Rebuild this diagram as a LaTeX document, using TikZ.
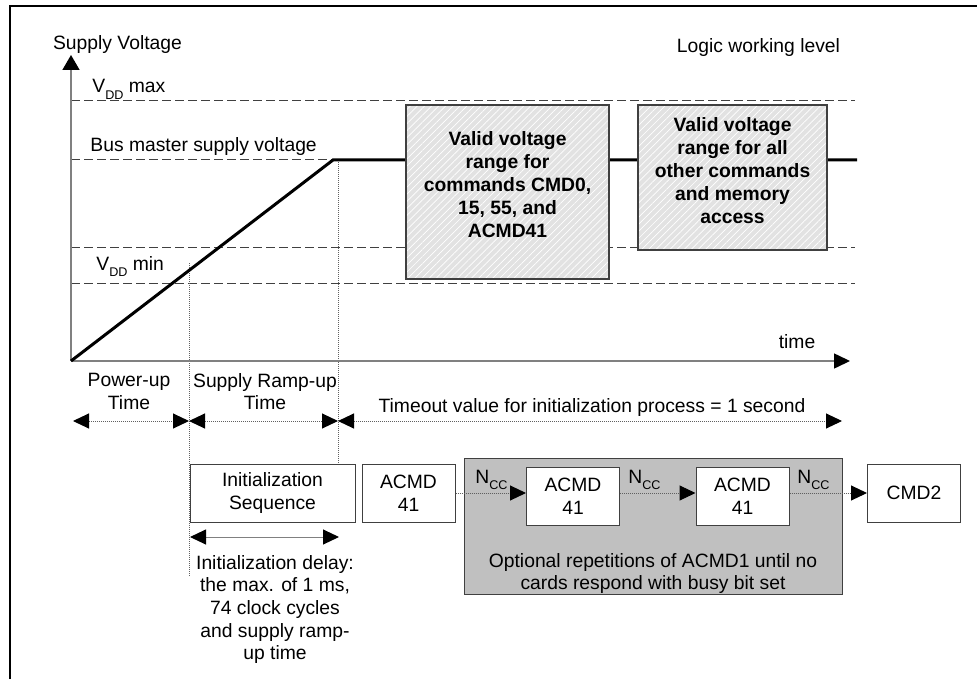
\documentclass[tikz,border=0pt]{standalone}
\usepackage{fontspec}
\setmainfont{Liberation Sans}
\usetikzlibrary{arrows.meta,patterns.meta}
\newcommand{\lowsub}[1]{\raisebox{-3.3pt}{\fontsize{6.3}{7}\selectfont #1}}
\definecolor{edgegray}{HTML}{404040}
\definecolor{axisgray}{HTML}{808080}
\definecolor{dotgray}{HTML}{606060}
\definecolor{repfill}{HTML}{C0C0C0}
\definecolor{hatchfill}{HTML}{E2E2E2}
\begin{document}
\begin{tikzpicture}[x=0.5pt,y=-0.5pt,
  every node/.style={font=\fontsize{9.65}{11.3}\selectfont,inner sep=0pt},
  tipend/.style={-{Triangle[length=8pt,width=7.5pt,color=black]}},
  tipboth/.style={{Triangle[length=8pt,width=7.5pt,color=black]}-{Triangle[length=8pt,width=7.5pt,color=black]}},
  dashline/.style={draw=edgegray,line width=0.5pt,dash pattern=on 4.5pt off 2pt},
  dotline/.style={draw=dotgray,line width=0.5pt,dash pattern=on 0.5pt off 0.5pt},
  axisline/.style={draw=axisgray,line width=0.75pt},
  cmdbox/.style={draw=edgegray,fill=white,line width=0.5pt,align=center,minimum width=46.5pt,minimum height=29pt},
  validbox/.style={fill=hatchfill,
     postaction={pattern={Lines[angle=45,distance=2.5pt,line width=0.35pt]},pattern color=white},
     postaction={draw=edgegray,line width=0.6pt}},
  boldtext/.style={align=center,font=\fontsize{9.65}{11.5}\selectfont\bfseries},
  plaintext/.style={align=center},
]
\useasboundingbox (0,0) rectangle (977,679);
% frame
\draw[line width=1pt] (10,679) -- (10,6) -- (977,6);

% coordinates
\coordinate (O) at (71,361);
\coordinate (ytop) at (71,55);
\coordinate (xend) at (850,361);
\coordinate (peak) at (333,160);
\coordinate (flatend) at (857,160);

% dashed levels
\draw[dashline] (71,101) -- (855,101);
\draw[dashline] (71,160) -- (peak);
\draw[dashline] (71,247) -- (855,247);
\draw[dashline] (71,283) -- (855,283);

% vertical dotted markers
\coordinate (v1top) at (189,263);
\coordinate (v1bot) at (189,577);
\coordinate (v2top) at (338,160);
\coordinate (v2bot) at (338,464);
\draw[dotline] (v1top) -- (v1bot);
\draw[dotline] (v2top) -- (v2bot);

% axes
\draw[axisline,-{Triangle[length=7.5pt,width=8.5pt,color=black]}] (O) -- (ytop);
\draw[axisline,-{Triangle[length=8pt,width=7.5pt,color=black]}] (O) -- (xend);

% supply ramp
\draw[line width=1.5pt,line join=miter] (O) -- (peak) -- (flatend);

% labels on graph
\node[anchor=base] (sv) at (117.5,50) {Supply Voltage};
\node[anchor=base] (lw) at (758.5,53) {Logic working level};
\node[anchor=base west] (vmax) at (92,93) {V\lowsub{DD} max};
\node[anchor=base west] (bus) at (90,152) {Bus master supply voltage};
\node[anchor=base west] (vmin) at (96,270) {V\lowsub{DD} min};
\node[anchor=base] (tm) at (797,348) {time};

% valid voltage boxes
\node[validbox,minimum width=101.5pt,minimum height=87pt] (val1) at (507.5,192) {};
\node[boldtext,anchor=north] at (507.5,131) {Valid voltage\\range for\\commands CMD0,\\15, 55, and\\ACMD41};
\node[validbox,minimum width=94.5pt,minimum height=72.5pt] (val2) at (732.5,177.5) {};
\node[boldtext,anchor=north] at (732.5,117) {Valid voltage\\range for all\\other commands\\and memory\\access};

% time spans
\coordinate (s0) at (73,421);
\coordinate (s1) at (189,421);
\coordinate (s2) at (338,421);
\coordinate (s3) at (842,421);
\draw[dotline,tipboth] (s0) -- (s1);
\draw[dotline,tipboth] (s1) -- (s2);
\draw[dotline,tipboth] (s2) -- (s3);
\node[plaintext,anchor=north] (pu) at (129,373) {Power-up\\Time};
\node[plaintext,anchor=north] (sr) at (265,373) {Supply Ramp-up\\Time};
\node[anchor=base] (to) at (592,412) {Timeout value for initialization process = 1 second};

% repetition area
\node[draw=edgegray,fill=repfill,line width=0.5pt,minimum width=189pt,minimum height=68pt] (rep) at (653,526) {};
\node[plaintext,anchor=north] (reptext) at (653,553) {Optional repetitions of ACMD1 until no\\cards respond with busy bit set};

% command boxes
\node[cmdbox,minimum width=82.5pt] (init) at (272.5,493) {Initialization\\Sequence};
\node[cmdbox] (a1) at (408.5,493) {ACMD\\41};
\node[cmdbox] (a2) at (573,496) {ACMD\\41};
\node[cmdbox] (a3) at (742.5,496) {ACMD\\41};
\node[cmdbox] (c2) at (914,493) {CMD2};

\draw[dotline,tipend] (a1.east) -- (a2.west |- a1.east);
\draw[dotline,tipend] (a2.east |- a1.east) -- (a3.west |- a1.east);
\draw[dotline,tipend] (a3.east |- a1.east) -- (c2.west);
\node[anchor=base west] (n1) at (475,483) {N\lowsub{CC}};
\node[anchor=base west] (n2) at (628,483) {N\lowsub{CC}};
\node[anchor=base west] (n3) at (797,483) {N\lowsub{CC}};

% initialization delay
\coordinate (d0) at (190,537);
\coordinate (d1) at (339,537);
\draw[axisline,line width=0.5pt,tipboth] (d0) -- (d1);
\node[plaintext,anchor=north] (delay) at (275,555) {Initialization delay:\\the max. of 1 ms,\\74 clock cycles\\and supply ramp-\\up time};
\end{tikzpicture}
\end{document}
